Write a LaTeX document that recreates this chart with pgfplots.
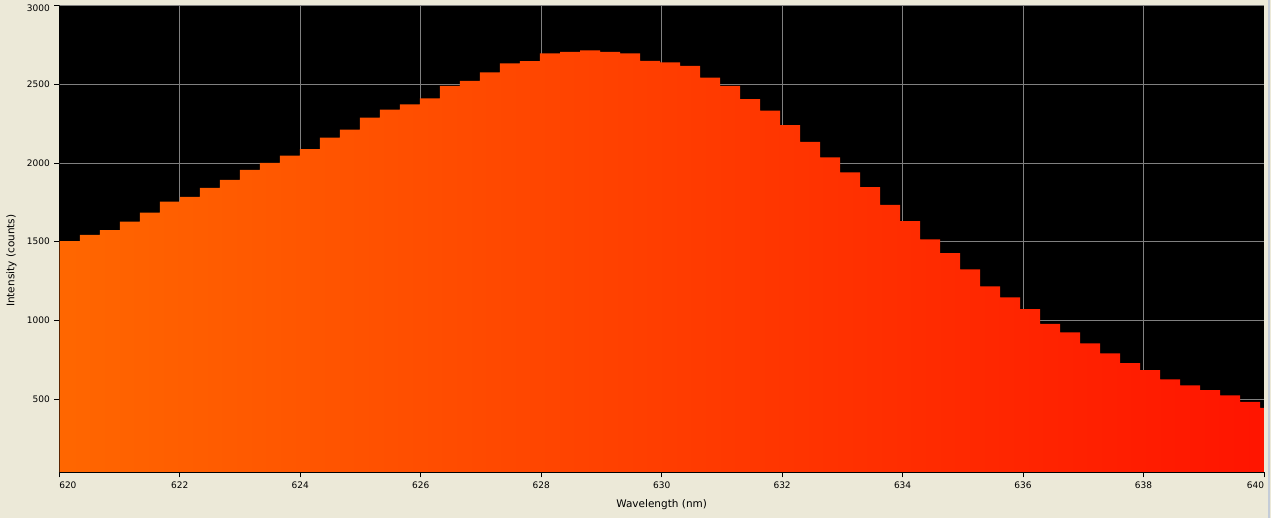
\documentclass[border=0pt]{standalone}
\usepackage{pgfplots}
\pgfplotsset{compat=1.18}
\usepackage{fontspec}
\setmainfont{DejaVu Sans}

\definecolor{winbg}{RGB}{236,233,216}
\definecolor{gridgray}{RGB}{128,128,128}
\definecolor{specleft}{RGB}{255,103,0}
\definecolor{specright}{RGB}{255,20,0}
\definecolor{frameline}{RGB}{196,204,216}

\begin{document}
\begin{tikzpicture}[x=1pt,y=1pt]
\useasboundingbox (0,0) rectangle (1271,518);
\fill[winbg] (0,0) rectangle (1271,518);
\fill[frameline] (1267.5,0) rectangle (1269.5,518);
\begin{axis}[
    at={(59.3pt,45.7pt)}, anchor=south west,
    scale only axis,
    width=1204.7pt, height=467pt,
    xmin=620, xmax=640,
    ymin=37, ymax=3000,
    axis background/.style={fill=black},
    axis lines*=left,
    axis line style={draw=none},
    tick align=outside,
    major tick length=5pt,
    tick style={black, line width=0.8pt},
    xtick={620,622,...,640},
    xticklabels={\makebox[0pt][l]{620},622,624,626,628,630,632,634,636,638,\makebox[0pt][r]{640}},
    extra x ticks={622,624,...,638},
    extra x tick labels={},
    extra x tick style={xmajorgrids=true, major tick length=0pt},
    ytick={500,1000,...,3000},
    yticklabels={500,1000,1500,2000,2500,\raisebox{-6.3pt}[0pt][0pt]{3000}},
    ymajorgrids=true,
    grid style={gridgray, line width=0.8pt},
    tick label style={font=\fontsize{9}{10}\selectfont, black},
    xticklabel style={yshift=-1pt},
    yticklabel style={xshift=-1pt},
    /pgf/number format/assume math mode=true,
    xlabel={Wavelength (nm)},
    ylabel={Intensity (counts)},
    label style={font=\fontsize{10.5}{12}\selectfont},
    xlabel style={at={(axis description cs:0.5,0)}, anchor=center, yshift=-32pt},
    ylabel style={at={(axis description cs:-0.0398,0.453)}, anchor=center},
]
\addplot[const plot, draw=none, left color=specleft, right color=specright]
coordinates {
(619.900,1504) (620.342,1543) (620.674,1574) (621.006,1627) (621.338,1684)
(621.671,1754) (622.003,1784) (622.335,1841) (622.667,1892) (622.999,1955)
(623.331,2000) (623.663,2046) (623.995,2088) (624.327,2160) (624.659,2211)
(624.992,2287) (625.324,2338) (625.656,2372) (625.988,2410) (626.320,2488)
(626.652,2520) (626.984,2575) (627.316,2632) (627.648,2645) (627.980,2695)
(628.313,2704) (628.645,2714) (628.977,2704) (629.309,2695) (629.641,2647)
(629.973,2638) (630.305,2615) (630.637,2541) (630.969,2488) (631.301,2405)
(631.634,2331) (631.966,2240) (632.298,2133) (632.630,2035) (632.962,1940)
(633.294,1847) (633.626,1733) (633.958,1631) (634.290,1515) (634.622,1428)
(634.955,1325) (635.287,1217) (635.619,1147) (635.951,1073) (636.283,978)
(636.615,925) (636.947,855) (637.279,792) (637.611,730) (637.943,686)
(638.276,627) (638.608,589) (638.940,559) (639.272,525) (639.604,483)
(639.936,445) (640.100,445)
} \closedcycle;
\draw[black, line width=1pt] (rel axis cs:0,1) -- (rel axis cs:0,0) -- (rel axis cs:1,0);
\end{axis}
\end{tikzpicture}
\end{document}
